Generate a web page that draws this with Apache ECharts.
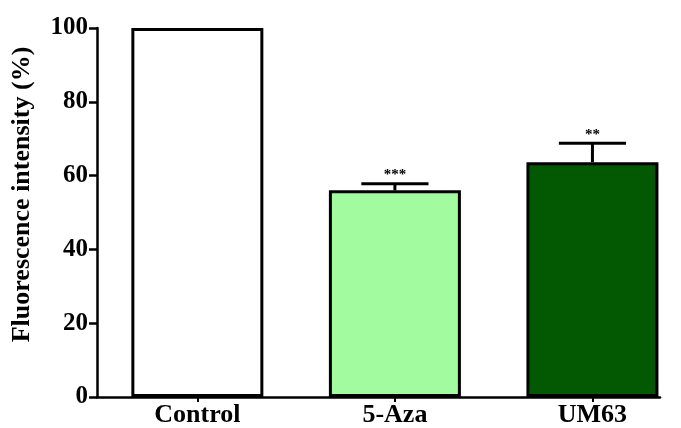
<!DOCTYPE html>
<html>
<head>
<meta charset="utf-8">
<script src="https://cdn.jsdelivr.net/npm/echarts@6/dist/echarts.min.js"></script>
<style>
html,body{margin:0;padding:0;background:#fff;}
#chart{width:681px;height:428px;}
</style>
</head>
<body>
<div id="chart"></div>
<script>
const categories = ['Control', '5-Aza', 'UM63'];
const means = [100, 56.0, 63.6];
const errorTops = [null, 57.8, 68.8];
const significance = ['', '***', '**'];
const barColors = ['#ffffff', '#a2fb9e', '#025902'];
const yTicks = [0, 20, 40, 60, 80, 100];

const FONT = '"Liberation Serif", "Times New Roman", serif';
const chart = echarts.init(document.getElementById('chart'));

const barData = categories.map((c, i) => ({
  value: [i, means[i]],
  itemStyle: { color: barColors[i] }
}));
const errData = categories.map((c, i) => errorTops[i] == null ? null : [i, errorTops[i], means[i]]).filter(Boolean);

chart.setOption({
  animation: false,
  backgroundColor: '#ffffff',
  grid: { left: 97, top: 28, width: 563, bottom: 30, containLabel: false },
  xAxis: {
    type: 'value',
    min: -0.508,
    max: 2.342,
    splitLine: { show: false },
    axisLine: { show: true, onZero: false, lineStyle: { color: '#000', width: 2.5 } },
    axisTick: { show: true, customValues: [0, 1, 2], length: 5, lineStyle: { color: '#000', width: 2 } },
    axisLabel: {
      customValues: [0, 1, 2],
      formatter: v => categories[Math.round(v)],
      color: '#000', fontFamily: FONT, fontWeight: 'bold', fontSize: 26, margin: 5
    }
  },
  yAxis: {
    type: 'value',
    min: yTicks[0], max: yTicks[yTicks.length - 1], interval: yTicks[1] - yTicks[0],
    name: 'Fluorescence intensity (%)',
    nameLocation: 'middle',
    nameGap: 62,
    nameTextStyle: { color: '#000', fontFamily: FONT, fontWeight: 'bold', fontSize: 26, padding: [0, 0, 0, 36] },
    splitLine: { show: false },
    axisLine: { show: true, onZero: false, lineStyle: { color: '#000', width: 2.5 } },
    axisTick: { show: true, length: 8, lineStyle: { color: '#000', width: 2.5 } },
    axisLabel: { color: '#000', fontFamily: FONT, fontWeight: 'bold', fontSize: 25, margin: 9 }
  },
  series: [
    {
      type: 'bar',
      data: barData,
      barWidth: 132,
      itemStyle: { borderColor: '#000', borderWidth: 3 },
      z: 2
    },
    {
      type: 'custom',
      data: errData,
      z: 3,
      renderItem: function (params, api) {
        const x = api.value(0);
        const hi = api.value(1);
        const mean = api.value(2);
        const stars = significance[Math.round(x)];
        const top = api.coord([x, hi]);
        const base = api.coord([x, mean]);
        const half = api.size([1, 0])[0] * 0.17;
        const ls = { stroke: '#000', lineWidth: 3 };
        return {
          type: 'group',
          children: [
            { type: 'line', shape: { x1: top[0], y1: top[1], x2: base[0], y2: base[1] }, style: ls },
            { type: 'line', shape: { x1: top[0] - half, y1: top[1], x2: top[0] + half, y2: top[1] }, style: ls },
            { type: 'text', x: top[0], y: top[1] - 1,
              style: { text: stars, fill: '#000', font: 'bold 15px ' + FONT, textAlign: 'center', textVerticalAlign: 'bottom' } }
          ]
        };
      }
    }
  ]
});
</script>
</body>
</html>
